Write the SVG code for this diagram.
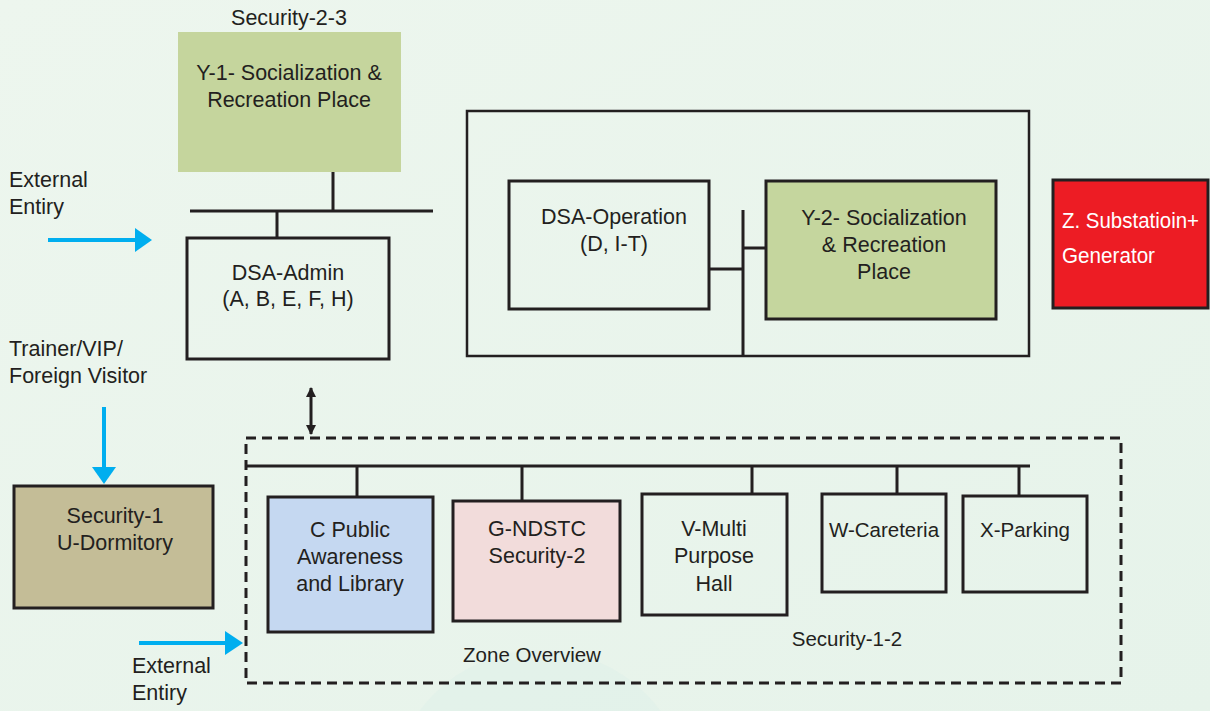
<svg xmlns="http://www.w3.org/2000/svg" width="1210" height="711" viewBox="0 0 1210 711">
<defs>
<linearGradient id="bg" x1="0" y1="0" x2="1" y2="1">
<stop offset="0" stop-color="#edf6ee"/>
<stop offset="1" stop-color="#e6f3ea"/>
</linearGradient>
<marker id="bh" viewBox="0 0 10 10" refX="9" refY="5" markerWidth="10" markerHeight="10" markerUnits="userSpaceOnUse" orient="auto-start-reverse">
<path d="M0,0 L10,5 L0,10 Z" fill="#231f20"/>
</marker>
</defs>
<style>
text{font-family:"Liberation Sans",Arial,sans-serif;font-size:21.5px;fill:#231f20}
.c{text-anchor:middle}
.s{font-size:20.5px}
.box{stroke:#231f20;stroke-width:3}
.ln{stroke:#231f20;stroke-width:3;fill:none}
.blue{stroke:#00aeef;stroke-width:4;fill:none}
.bh{fill:#00aeef}
.w{fill:#ffffff;font-size:22px}
</style>
<rect width="1210" height="711" fill="url(#bg)"/>
<circle cx="540" cy="800" r="150" fill="#dff0ea" opacity="0.6"/>

<g id="connectors">
<path class="ln" d="M333,172 V211 M190,211 H433 M277,211 V237"/>
<path class="ln" d="M743,210 V356 M709,269 H743 M743,248 H766"/>
<path class="ln" d="M246,466 H1030 M357,466 V497 M522,466 V501 M752,466 V494 M897,466 V494 M1019,466 V496"/>
<line x1="311" y1="388" x2="311" y2="434" stroke="#231f20" stroke-width="3" marker-start="url(#bh)" marker-end="url(#bh)"/>
<line class="blue" x1="48" y1="240" x2="137" y2="240"/>
<path class="bh" d="M135,228 L152,240 L135,252 Z"/>
<line class="blue" x1="104" y1="407" x2="104" y2="469"/>
<path class="bh" d="M92,467 L104,484 L116,467 Z"/>
<line class="blue" x1="139" y1="643" x2="227" y2="643"/>
<path class="bh" d="M225,631 L243,643 L225,655 Z"/>
</g>

<g id="label-security-2-3"><text class="c" x="289" y="25">Security-2-3</text></g>
<g id="label-external-entry-1"><text x="9" y="187">External</text><text x="9" y="214">Entiry</text></g>
<g id="label-trainer"><text x="9" y="356">Trainer/VIP/</text><text x="9" y="383">Foreign Visitor</text></g>
<g id="label-external-entry-2"><text x="132" y="673">External</text><text x="132" y="700">Entiry</text></g>

<g id="node-y1">
<rect x="178" y="32" width="223" height="140" fill="#c5d59d"/>
<text class="c" x="289" y="80">Y-1- Socialization &amp;</text>
<text class="c" x="289" y="107">Recreation Place</text>
</g>

<g id="node-dsa-admin">
<rect class="box" x="187" y="238" width="202" height="121" fill="none"/>
<text class="c" x="288" y="280">DSA-Admin</text>
<text class="c" x="288" y="306">(A, B, E, F, H)</text>
</g>

<g id="node-operation-zone">
<rect x="467" y="111" width="562" height="245" fill="none" stroke="#231f20" stroke-width="2.5"/>
</g>

<g id="node-dsa-operation">
<rect class="box" x="509" y="181" width="200" height="128" fill="none"/>
<text class="c" x="614" y="224">DSA-Operation</text>
<text class="c" x="614" y="251">(D, I-T)</text>
</g>

<g id="node-y2">
<rect class="box" x="766" y="181" width="230" height="138" fill="#c5d69e"/>
<text class="c" x="884" y="225">Y-2- Socialization</text>
<text class="c" x="884" y="252">&amp; Recreation</text>
<text class="c" x="884" y="279">Place</text>
</g>

<g id="node-z">
<rect x="1053" y="180" width="155" height="128" fill="#ed1c24" stroke="#231f20" stroke-width="3"/>
<text class="w" x="1062" y="228" textLength="137" lengthAdjust="spacingAndGlyphs">Z. Substatioin+</text>
<text class="w" x="1062" y="263" textLength="93" lengthAdjust="spacingAndGlyphs">Generator</text>
</g>

<g id="node-security-1">
<rect class="box" x="14" y="486" width="199" height="122" fill="#c4bd97"/>
<text class="c" x="115" y="523">Security-1</text>
<text class="c" x="115" y="550">U-Dormitory</text>
</g>

<g id="node-zone-overview">
<rect x="246" y="438" width="875" height="245" fill="none" stroke="#231f20" stroke-width="3" stroke-dasharray="10 6"/>
<text class="c s" x="532" y="662">Zone Overview</text>
<text class="c s" x="847" y="646">Security-1-2</text>
</g>

<g id="node-c">
<rect class="box" x="268" y="497" width="165" height="135" fill="#c5d8f1"/>
<text class="c" x="350" y="537">C Public</text>
<text class="c" x="350" y="564">Awareness</text>
<text class="c" x="350" y="591">and Library</text>
</g>

<g id="node-g">
<rect class="box" x="453" y="501" width="167" height="120" fill="#f2dcdb"/>
<text class="c" x="537" y="536">G-NDSTC</text>
<text class="c" x="537" y="563">Security-2</text>
</g>

<g id="node-v">
<rect class="box" x="642" y="494" width="145" height="121" fill="none"/>
<text class="c" x="714" y="536">V-Multi</text>
<text class="c" x="714" y="563">Purpose</text>
<text class="c" x="714" y="591">Hall</text>
</g>

<g id="node-w">
<rect class="box" x="822" y="494" width="124" height="98" fill="none"/>
<text class="c s" x="884" y="537">W-Careteria</text>
</g>

<g id="node-x">
<rect class="box" x="963" y="496" width="124" height="96" fill="none"/>
<text class="c s" x="1025" y="537">X-Parking</text>
</g>
</svg>
